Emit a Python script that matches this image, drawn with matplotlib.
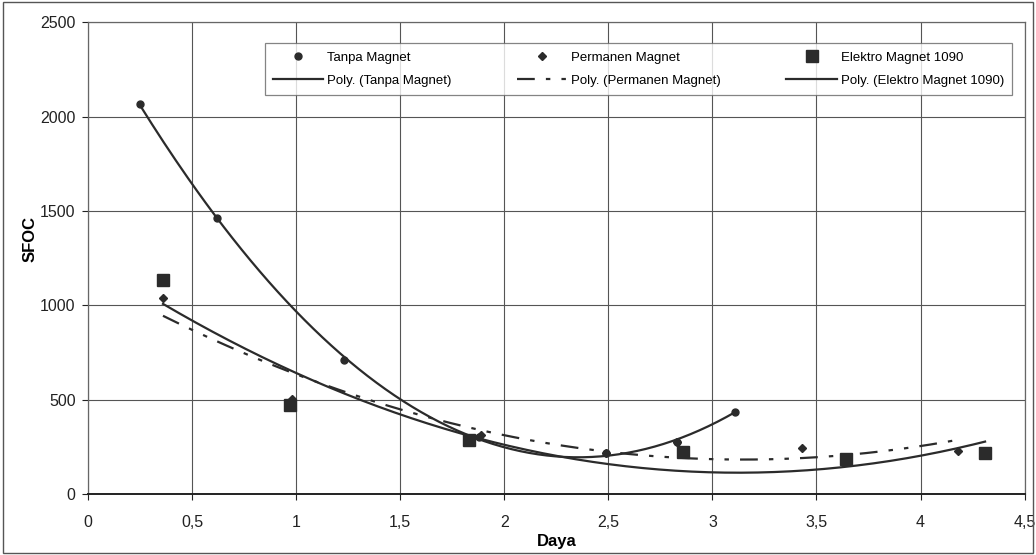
import numpy as np
import matplotlib
matplotlib.use('Agg')
import matplotlib.pyplot as plt
from matplotlib.patches import Rectangle

plt.rcParams['font.family'] = ['Liberation Sans', 'DejaVu Sans']

# data
tanpa_x = [0.25, 0.62, 1.23, 1.88, 2.49, 2.83, 3.11]
tanpa_y = [2065, 1460, 710, 300, 217, 275, 435]
perm_x = [0.36, 0.98, 1.89, 2.49, 2.83, 3.43, 4.18]
perm_y = [1040, 505, 310, 215, 275, 245, 228]
elek_x = [0.36, 0.97, 1.83, 2.86, 3.64, 4.31]
elek_y = [1133, 472, 286, 222, 185, 216]

xticks = [0, 0.5, 1, 1.5, 2, 2.5, 3, 3.5, 4, 4.5]
xtick_labels = ['0', '0,5', '1', '1,5', '2', '2,5', '3', '3,5', '4', '4,5']
yticks = [0, 500, 1000, 1500, 2000, 2500]

col = '#2b2b2b'

fig = plt.figure(figsize=(10.36, 5.55), dpi=100)
ax = fig.add_axes([0.085, 0.11, 0.904, 0.85])

def trend(x, y):
    c = np.polyfit(x, y, 2)
    xs = np.linspace(min(x), max(x), 200)
    return xs, np.polyval(c, xs)

h1, = ax.plot(tanpa_x, tanpa_y, 'o', color=col, ms=5, label='Tanpa Magnet')
h2, = ax.plot(perm_x, perm_y, 'D', color=col, ms=4, label='Permanen Magnet')
h3, = ax.plot(elek_x, elek_y, 's', color=col, ms=8, label='Elektro Magnet 1090')

xs, ys = trend(tanpa_x, tanpa_y)
l1, = ax.plot(xs, ys, '-', color=col, lw=1.6, label='Poly. (Tanpa Magnet)')
xs, ys = trend(perm_x, perm_y)
l2, = ax.plot(xs, ys, color=col, lw=1.6, dashes=(8, 5, 2, 5, 2, 5), label='Poly. (Permanen Magnet)')
xs, ys = trend(elek_x, elek_y)
l3, = ax.plot(xs, ys, '-', color=col, lw=1.6, label='Poly. (Elektro Magnet 1090)')

ax.set_xlim(0, 4.5)
ax.set_ylim(0, 2500)
ax.set_xticks(xticks)
ax.set_xticklabels(xtick_labels)
ax.set_yticks(yticks)
ax.grid(True, color='#555555', lw=0.8)
ax.set_axisbelow(True)
ax.tick_params(labelsize=11.5, colors='#222222', length=4, width=0.8, pad=5)
ax.tick_params(axis='x', pad=11)
for s in ax.spines.values():
    s.set_color('#666666')
    s.set_linewidth(0.9)
ax.spines['bottom'].set_color('#222222')
ax.spines['bottom'].set_linewidth(1.4)

ax.set_xlabel('Daya', fontsize=12, fontweight='bold')
ax.xaxis.set_label_coords(0.5, -0.085)
ax.set_ylabel('SFOC', fontsize=12, fontweight='bold')
ax.yaxis.set_label_coords(-0.054, 0.54)

leg = fig.legend(handles=[h1, l1, h2, l2, h3, l3], ncol=3, loc='upper left',
                 bbox_to_anchor=(258 / 1036, 1 - 42 / 555, 761 / 1036, 0.01), mode='expand',
                 fontsize=9.5, frameon=True, fancybox=False, edgecolor='#666666',
                 handlelength=3.8, handletextpad=0.3, borderpad=0.65, labelspacing=0.8)
leg.get_frame().set_linewidth(0.9)

fig.patches.append(Rectangle((0.003, 0.003), 0.994, 0.994, transform=fig.transFigure,
                             fill=False, edgecolor='#555555', lw=1))

fig.savefig('out.png', dpi=100)
